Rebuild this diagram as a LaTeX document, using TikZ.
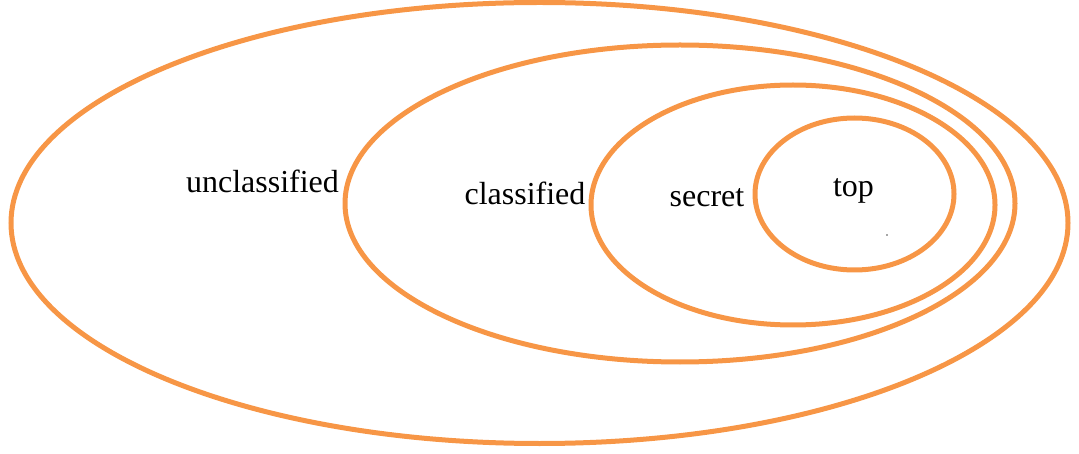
\documentclass[tikz,border=0pt]{standalone}
\usepackage{fontspec}
\setmainfont{Liberation Serif}
\definecolor{levelorange}{HTML}{F79646}
\begin{document}
\begin{tikzpicture}[x=1pt,y=-1pt,
  level/.style={draw=levelorange,line width=5pt},
  levellabel/.style={anchor=base,inner sep=0pt,font=\fontsize{32}{38}\selectfont}]
\useasboundingbox (0,0) rectangle (1079,454);
% nested security levels
\draw[level] (539.5,223) ellipse [x radius=528.5, y radius=220.5];
\draw[level] (680,203.5) ellipse [x radius=335, y radius=158.5];
\draw[level] (793,205) ellipse [x radius=202, y radius=120];
\draw[level] (854.5,194) ellipse [x radius=99.5, y radius=76];
% level names
\node[levellabel] (unclassified) at (262.5,193) {unclassified};
\node[levellabel] (classified) at (525,205) {classified};
\node[levellabel] (secret) at (707,207) {secret};
\node[levellabel] (top) at (853.5,197) {top};
\fill[black!70] (887,235) circle [radius=0.8];
\end{tikzpicture}
\end{document}
